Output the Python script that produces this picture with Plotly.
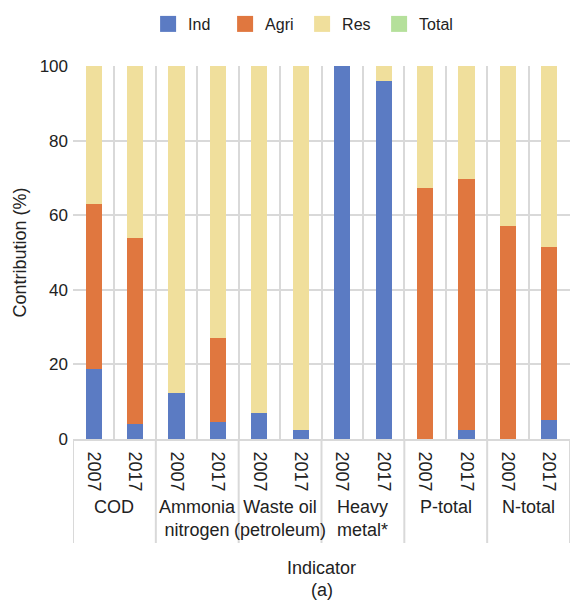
import plotly.graph_objects as go

group_names = ["COD", "Ammonia<br>nitrogen", "Waste oil<br>(petroleum)",
               "Heavy<br>metal*", "P-total", "N-total"]
year_labels = ["2007", "2017"]

ind = [18.7, 4.1, 12.2, 4.6, 7.0, 2.3, 100.0, 96.1, 0.0, 2.3, 0.0, 5.0]
agri = [44.2, 49.7, 0.0, 22.6, 0.0, 0.0, 0.0, 0.0, 67.2, 67.3, 57.1, 46.4]
res = [37.1, 46.2, 87.8, 72.8, 93.0, 97.7, 0.0, 3.9, 32.8, 30.4, 42.9, 48.6]
total = [0.0] * 12

series = [("Ind", ind, "#5b7bc3"), ("Agri", agri, "#e0773f"),
          ("Res", res, "#f0df9c"), ("Total", total, "#b5e09b")]

# category keys: one per bar (group + year)
cats = [f"{g}|{y}" for g in group_names for y in year_labels]
tick_text = [y for g in group_names for y in year_labels]

FONT = "Liberation Sans, Arial, sans-serif"
GRID = "#d9d9d9"
fig = go.Figure()
for name, vals, col in series:
    fig.add_trace(go.Bar(x=cats, y=vals, name=name,
                         marker=dict(color=col, line=dict(width=0)),
                         showlegend=False))
for name, vals, col in series:
    fig.add_trace(go.Scatter(x=[None], y=[None], mode="markers", name=name,
                             marker=dict(symbol="square", size=16, color=col)))

# plot area: y 66..439 px, height 373
def py(pix):
    return (439 - pix) / 373.0

annotations = []
shapes = []
n_per = len(year_labels)
for i, g in enumerate(group_names):
    annotations.append(dict(x=i * n_per + (n_per - 1) / 2, xref="x",
                            y=py(495), yref="paper", yanchor="top",
                            text=g, showarrow=False,
                            font=dict(size=18, family=FONT, color="#222222")))
for k in range(len(group_names) + 1):
    shapes.append(dict(type="line", xref="x", yref="paper",
                       x0=k * n_per - 0.5, x1=k * n_per - 0.5,
                       y0=0, y1=py(543), line=dict(color=GRID, width=2)))
annotations.append(dict(x=0.5, xref="paper", y=py(568), yref="paper",
                        yanchor="middle", text="Indicator", showarrow=False,
                        font=dict(size=18, family=FONT, color="#222222")))
annotations.append(dict(x=0.5, xref="paper", y=py(590), yref="paper",
                        yanchor="middle", text="(a)", showarrow=False,
                        font=dict(size=18, family=FONT, color="#222222")))

fig.update_layout(
    width=570, height=600,
    barmode="stack", bargap=0.61,
    plot_bgcolor="white", paper_bgcolor="white",
    margin=dict(l=73, r=0, t=66, b=161, autoexpand=False),
    font=dict(family=FONT, size=18, color="#222222"),
    legend=dict(orientation="h", traceorder="normal",
                x=0.53, xref="container", xanchor="center",
                y=0.96, yref="container", yanchor="middle",
                font=dict(size=16), itemsizing="trace",
                entrywidth=32, entrywidthmode="pixels"),
    showlegend=True,
    annotations=annotations,
    shapes=shapes,
)
fig.update_xaxes(
    type="category", tickson="boundaries", showgrid=True,
    gridcolor=GRID, gridwidth=2, ticks="", tickangle=90,
    tickvals=cats, ticktext=tick_text, ticklabelstandoff=7,
    showline=True, linecolor=GRID, linewidth=2,
    tickfont=dict(size=18), automargin=False,
    range=[-0.5, len(cats) - 0.5],
)
fig.update_yaxes(
    range=[0, 100], dtick=20, showgrid=True, gridcolor=GRID, gridwidth=2,
    zeroline=False, ticks="", tickfont=dict(size=17), automargin=False,
    ticklabelstandoff=4,
    title=dict(text="Contribution (%)", font=dict(size=18), standoff=8),
)
fig.write_html("out.html", config={"displayModeBar": False},
               post_script="document.body.style.margin='0';document.body.style.overflow='hidden';")
